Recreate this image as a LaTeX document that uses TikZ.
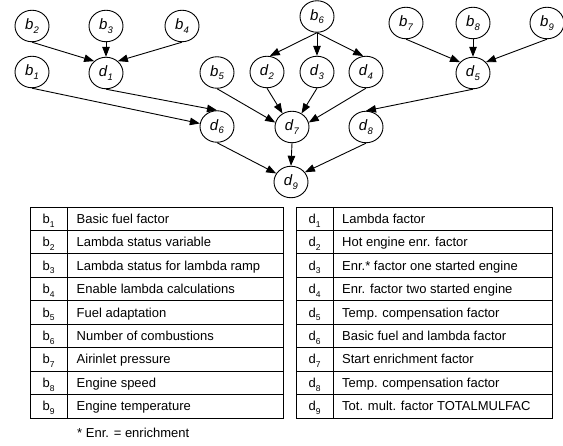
\documentclass[tikz,border=0pt]{standalone}
\usepackage{fontspec}
\setmainfont{Liberation Sans}
\usetikzlibrary{shapes.geometric,arrows.meta}
\newcommand{\nb}[2]{\textit{#1}\raisebox{-0.45ex}{\fontsize{9.5}{9.5}\selectfont\itshape #2}}
\newcommand{\tb}[2]{#1\raisebox{-0.55ex}{\fontsize{8.5}{8.5}\selectfont #2}}
\begin{document}
\begin{tikzpicture}[x=1pt,y=-1pt,
  vnode/.style={draw, ellipse, line width=0.9pt, minimum width=34pt, minimum height=31.5pt, inner sep=0pt, font=\fontsize{15}{15}\selectfont},
  arr/.style={line width=0.9pt, -{Triangle[length=10pt,width=7.5pt]}},
  tline/.style={line width=0.9pt},
  ttext/.style={font=\fontsize{13}{13}\selectfont, inner sep=0pt}]
\useasboundingbox (0,0) rectangle (563,446);
% nodes
\node[vnode] (b2) at (32,26) {\nb{b}{2}};
\node[vnode] (b3) at (106,26) {\nb{b}{3}};
\node[vnode] (b4) at (182,26) {\nb{b}{4}};
\node[vnode] (b1) at (32,72) {\nb{b}{1}};
\node[vnode] (d1) at (106,73) {\nb{d}{1}};
\node[vnode] (b5) at (217,72.5) {\nb{b}{5}};
\node[vnode] (d2) at (267,72) {\nb{d}{2}};
\node[vnode] (b6) at (317,16.5) {\nb{b}{6}};
\node[vnode] (d3) at (317,72) {\nb{d}{3}};
\node[vnode] (d4) at (366,72) {\nb{d}{4}};
\node[vnode] (b7) at (406,23) {\nb{b}{7}};
\node[vnode] (b8) at (473,23) {\nb{b}{8}};
\node[vnode] (b9) at (547,23) {\nb{b}{9}};
\node[vnode] (d5) at (473,73) {\nb{d}{5}};
\node[vnode] (d6) at (217,126.5) {\nb{d}{6}};
\node[vnode] (d7) at (292,127) {\nb{d}{7}};
\node[vnode] (d8) at (366,127) {\nb{d}{8}};
\node[vnode] (d9) at (291,182) {\nb{d}{9}};
% connectors
\draw[arr] (b2.south) -- (d1.135);
\draw[arr] (b3.south) -- (d1.north);
\draw[arr] (b4.south) -- (d1.45);
\draw[arr] (b1.south) -- (d6.170);
\draw[arr] (d1.south) -- (d6.north);
\draw[arr] (b6.south) -- (d2.80);
\draw[arr] (b6.south) -- (d3.north);
\draw[arr] (b6.south) -- (d4.100);
\draw[arr] (b5.south) -- (d7.165);
\draw[arr] (d2.south) -- (d7.125);
\draw[arr] (d3.south) -- (d7.55);
\draw[arr] (d4.south) -- (d7.15);
\draw[arr] (b7.south) -- (d5.140);
\draw[arr] (b8.south) -- (d5.north);
\draw[arr] (b9.south) -- (d5.40);
\draw[arr] (d5.south) -- (d8.north);
\draw[arr] (d6.south) -- (d9.150);
\draw[arr] (d7.south) -- (d9.north);
\draw[arr] (d8.south) -- (d9.35);
% tables
\def\rh{23.444}
\draw[tline] (30,207) rectangle (283,418);
\draw[tline] (67,207) -- (67,418);
\draw[tline] (296,207) rectangle (552,418);
\draw[tline] (333,207) -- (333,418);
\foreach \k in {1,...,8}{
  \draw[tline] (30,{207+\rh*\k}) -- (283,{207+\rh*\k});
  \draw[tline] (296,{207+\rh*\k}) -- (552,{207+\rh*\k});
}
\foreach \i/\t in {1/Basic fuel factor,2/Lambda status variable,3/Lambda status for lambda ramp,4/Enable lambda calculations,5/Fuel adaptation,6/Number of combustions,7/Airinlet pressure,8/Engine speed,9/Engine temperature}{
  \node[ttext, anchor=base] (lb\i) at (48.5,{207+\rh*(\i-0.5)+4.6}) {\tb{b}{\i}};
  \node[ttext, anchor=base west] (lt\i) at (76.5,{207+\rh*(\i-0.5)+4.6}) {\t};
}
\foreach \i/\t in {1/Lambda factor,2/Hot engine enr. factor,3/Enr.* factor one started engine,4/Enr. factor two started engine,5/Temp. compensation factor,6/Basic fuel and lambda factor,7/Start enrichment factor,8/Temp. compensation factor,9/Tot. mult. factor TOTALMULFAC}{
  \node[ttext, anchor=base] (rb\i) at (314.5,{207+\rh*(\i-0.5)+4.6}) {\tb{d}{\i}};
  \node[ttext, anchor=base west] (rt\i) at (342,{207+\rh*(\i-0.5)+4.6}) {\t};
}
\node[ttext, anchor=base west] (note) at (77,437.5) {* Enr. = enrichment};
\end{tikzpicture}
\end{document}
